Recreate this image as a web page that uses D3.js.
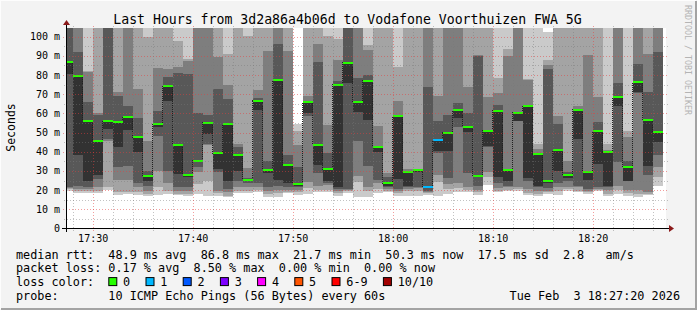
<!DOCTYPE html>
<html>
<head>
<meta charset="utf-8">
<script src="https://cdn.jsdelivr.net/npm/d3@7"></script>
<style>
  body { margin: 0; background: #f3f3f3; }
  text { font-family: "DejaVu Sans Mono", monospace; }
</style>
</head>
<body>
<div id="chart"></div>
<script>
// Graph data
var title = "Last Hours from 3d2a86a4b06d to Vodafone Voorthuizen FWA 5G";
var startTime = new Date(2026, 1, 3, 17, 27, 20),
    endTime = new Date(2026, 1, 3, 18, 27, 20),
    firstStep = new Date(2026, 1, 3, 17, 27, 0);

// median rtt per 1-minute step (ms)
var medians = [86.8, 79.7, 56.2, 45.7, 56.2, 55.7, 57.9, 47.5, 27.5, 54.4,
               74.4, 43.7, 28.0, 35.3, 55.1, 39.1, 54.4, 38.4, 25.4, 66.6,
               30.6, 77.4, 33.2, 23.1, 65.7, 43.7, 31.0, 75.0, 86.3, 66.1,
               77.0, 42.6, 23.5, 58.4, 29.7, 30.4, 21.7, 46.3, 49.9, 61.7,
               53.0, 27.5, 51.0, 61.4, 30.6, 60.3, 63.8, 38.8, 24.9, 40.9,
               28.0, 61.9, 29.7, 50.6, 39.7, 68.3, 32.2, 76.2, 56.7, 50.3];

// lost pings per step
var lossCount = [0,0,0,0,0,0,0,0,0,0, 0,0,0,0,0,0,0,0,0,0,
                 0,0,0,0,0,0,0,0,0,0, 0,0,0,0,0,0,1,1,0,0,
                 0,0,0,0,0,0,0,0,0,0, 0,0,0,0,0,0,0,0,0,0];

// sorted ping rtts per step (ms), 10 pings each; 115 = off the top of the graph
var pings = [
  [19.8, 20.5, 21.0, 21.7, 80.5, 86.8, 115, 115, 115, 115],
  [18.3, 19.3, 20.5, 22.3, 38.4, 79.7, 91.8, 115, 115, 115],
  [18.3, 19.7, 20.5, 21.7, 24.9, 56.2, 65.7, 81.4, 81.9, 115],
  [18.3, 19.7, 21.4, 25.7, 28.0, 45.7, 59.3, 60.0, 115, 115],
  [20.0, 21.4, 45.7, 46.6, 51.8, 56.2, 115, 115, 115, 115],
  [17.6, 18.8, 25.2, 31.8, 42.6, 55.7, 68.9, 71.0, 115, 115],
  [17.9, 18.8, 25.2, 32.7, 51.3, 57.9, 64.0, 115, 115, 115],
  [17.6, 18.8, 21.4, 23.5, 40.0, 47.5, 57.6, 72.7, 115, 115],
  [17.0, 17.9, 19.7, 21.9, 24.5, 27.5, 30.1, 45.7, 99.7, 115],
  [17.6, 21.4, 30.1, 48.3, 53.0, 54.4, 61.0, 83.7, 115, 115],
  [17.9, 19.7, 23.5, 30.1, 66.6, 74.4, 79.1, 83.0, 115, 115],
  [17.6, 17.9, 19.7, 21.4, 28.3, 43.7, 80.9, 84.0, 97.9, 115],
  [17.0, 17.9, 19.7, 21.4, 26.6, 28.0, 80.5, 87.1, 88.3, 115],
  [17.9, 23.1, 29.2, 32.2, 34.4, 35.3, 60.0, 115, 115, 115],
  [17.0, 24.9, 43.7, 44.0, 49.2, 55.1, 59.3, 115, 115, 115],
  [17.0, 18.3, 19.8, 29.2, 31.0, 39.1, 72.7, 89.2, 115, 115],
  [16.2, 17.0, 18.8, 20.5, 24.9, 54.4, 67.5, 75.0, 91.0, 115],
  [18.3, 19.7, 21.4, 24.5, 30.1, 38.4, 42.3, 44.0, 115, 115],
  [18.3, 19.7, 21.7, 23.5, 24.5, 25.4, 26.3, 31.5, 100.5, 115],
  [18.8, 20.0, 21.7, 23.5, 61.7, 66.6, 68.0, 72.2, 115, 115],
  [16.5, 17.9, 19.7, 21.4, 28.9, 30.6, 35.3, 92.3, 115, 115],
  [16.5, 18.3, 20.2, 21.9, 25.2, 77.4, 96.2, 115, 115, 115],
  [18.3, 18.8, 20.0, 21.7, 23.5, 33.2, 38.4, 92.3, 115, 115],
  [17.6, 18.8, 20.0, 21.4, 22.3, 23.1, 31.8, 43.7, 51.0, 54.4],
  [17.9, 21.0, 24.0, 58.8, 60.0, 65.7, 66.3, 69.2, 115, 115],
  [18.8, 20.2, 22.3, 28.7, 33.2, 43.7, 86.6, 96.2, 115, 115],
  [18.8, 20.0, 22.8, 23.5, 24.5, 31.0, 39.3, 54.1, 100.5, 115],
  [17.0, 18.3, 19.7, 20.5, 21.4, 75.0, 77.0, 87.8, 98.8, 115],
  [18.6, 19.3, 20.0, 20.5, 75.7, 86.3, 115, 115, 115, 115],
  [16.5, 24.0, 27.5, 45.7, 60.5, 66.1, 78.4, 115, 115, 115],
  [16.2, 19.7, 21.4, 32.7, 56.5, 77.0, 80.2, 93.0, 95.8, 115],
  [18.3, 20.5, 23.5, 25.2, 39.7, 42.6, 43.1, 53.6, 115, 115],
  [19.1, 19.7, 20.5, 21.4, 22.3, 23.5, 27.0, 28.7, 115, 115],
  [17.0, 18.3, 19.7, 20.5, 25.7, 58.4, 58.8, 66.3, 84.0, 115],
  [17.0, 19.7, 20.5, 21.4, 22.3, 29.7, 30.1, 31.0, 115, 115],
  [17.0, 19.7, 21.0, 21.7, 29.2, 30.4, 30.8, 31.1, 115, 115],
  [17.6, 18.3, 19.1, 19.7, 21.0, 21.7, 73.9, 115, 115, 115],
  [17.0, 24.0, 28.0, 39.1, 40.5, 46.3, 56.2, 69.2, 115, 115],
  [17.9, 20.5, 23.1, 26.3, 40.5, 49.9, 59.3, 115, 115, 115],
  [18.8, 21.0, 23.5, 52.7, 57.6, 61.7, 65.2, 115, 115, 115],
  [19.1, 20.0, 21.7, 28.7, 50.1, 53.0, 60.0, 73.9, 115, 115],
  [17.6, 18.8, 20.0, 22.3, 27.0, 27.5, 90.1, 90.6, 115, 115],
  [22.8, 26.6, 29.2, 42.6, 43.1, 51.0, 51.3, 68.7, 115, 115],
  [18.8, 19.7, 21.0, 23.5, 26.6, 61.4, 64.5, 70.4, 78.4, 115],
  [19.3, 20.2, 21.4, 22.3, 24.5, 30.6, 31.0, 90.1, 93.6, 115],
  [19.7, 20.5, 21.4, 55.8, 56.2, 60.3, 60.5, 115, 115, 115],
  [17.6, 18.3, 20.5, 24.9, 26.3, 63.8, 64.0, 77.4, 77.9, 115],
  [17.0, 17.9, 19.7, 21.4, 22.3, 38.8, 39.1, 41.4, 44.3, 115],
  [17.9, 18.8, 19.7, 21.0, 23.5, 24.9, 83.1, 85.4, 87.8, 102.5],
  [17.6, 19.7, 21.4, 23.5, 30.1, 40.9, 54.4, 58.8, 115, 115],
  [19.7, 20.5, 21.4, 24.5, 26.3, 28.0, 29.2, 35.0, 115, 115],
  [18.8, 19.7, 21.4, 22.3, 46.6, 61.9, 62.3, 64.0, 115, 115],
  [17.9, 18.8, 19.7, 20.5, 25.2, 29.7, 30.1, 90.6, 115, 115],
  [19.7, 20.0, 20.5, 21.4, 33.6, 50.6, 55.3, 68.7, 115, 115],
  [17.0, 17.9, 20.0, 21.4, 22.3, 39.7, 40.2, 40.9, 44.3, 115],
  [17.9, 20.2, 22.3, 34.4, 64.0, 68.3, 75.7, 115, 115, 115],
  [17.0, 18.3, 20.2, 24.5, 24.9, 32.2, 35.3, 47.8, 50.6, 115],
  [16.2, 17.9, 20.0, 70.6, 71.0, 76.2, 85.7, 115, 115, 115],
  [17.6, 17.9, 18.8, 28.0, 32.7, 56.7, 71.0, 91.0, 115, 115],
  [22.3, 26.6, 31.8, 38.4, 44.9, 50.6, 91.8, 115, 115, 115]
];

var yTicks = [0, 10, 20, 30, 40, 50, 60, 70, 80, 90, 100];
var lossLegend = [["0", "#26ff00"], ["1", "#00b8ff"], ["2", "#0059ff"], ["3", "#7e00ff"],
                  ["4", "#ff00ff"], ["5", "#ff5500"], ["6-9", "#ff0000"], ["10/10", "#a10000"]];
var smokeGreys = ["#cacaca", "#a4a4a4", "#7e7e7e", "#585858", "#323232"];

var statLines = [
  "median rtt:  48.9 ms avg  86.8 ms max  21.7 ms min  50.3 ms now  17.5 ms sd  2.8   am/s",
  "packet loss: 0.17 % avg  8.50 % max  0.00 % min  0.00 % now",
  "loss color:",
  "probe:       10 ICMP Echo Pings (56 Bytes) every 60s"
];
var dateText = "Tue Feb  3 18:27:20 2026";

// Layout
var W = 697, H = 310;
var plot = {left: 66, right: 666, top: 28, bottom: 228.5};

var svg = d3.select("#chart").append("svg")
    .attr("width", W)
    .attr("height", H)
    .style("display", "block");

// background + 3d frame
svg.append("rect").attr("width", W).attr("height", H).attr("fill", "#f3f3f3");
svg.append("path").attr("d", "M0,309 L0,0 L696,0").attr("fill", "none")
    .attr("stroke", "#fdfdfd").attr("stroke-width", 2);
svg.append("path").attr("d", "M1,309 L696,309 L696,1").attr("fill", "none")
    .attr("stroke", "#a3a3a3").attr("stroke-width", 2);

var x = d3.scaleTime().domain([startTime, endTime]).range([plot.left, plot.right]);
var y = d3.scaleLinear().domain([0, 104.5]).range([plot.bottom, plot.top]);

svg.append("defs").append("clipPath").attr("id", "clip")
  .append("rect")
    .attr("x", plot.left).attr("y", plot.top)
    .attr("width", plot.right - plot.left).attr("height", plot.bottom - plot.top);

svg.append("rect")
    .attr("x", plot.left).attr("y", plot.top)
    .attr("width", plot.right - plot.left).attr("height", plot.bottom - plot.top)
    .attr("fill", "#fff");

// one record per step
var steps = pings.map(function(p, i) {
  var t0 = d3.timeMinute.offset(firstStep, i),
      t1 = d3.timeMinute.offset(firstStep, i + 1);
  return {x0: Math.max(x(t0), plot.left), x1: Math.min(x(t1), plot.right),
          p: p, med: medians[i], loss: lossCount[i]};
});

var g = svg.append("g").attr("clip-path", "url(#clip)");

// smoke: nested bands ping k .. ping (n-1-k)
smokeGreys.forEach(function(col, k) {
  g.selectAll(null)
    .data(steps)
    .enter().append("rect")
      .attr("x", function(d) { return d.x0; })
      .attr("width", function(d) { return d.x1 - d.x0; })
      .attr("y", function(d) { return y(d.p[9 - k]); })
      .attr("height", function(d) { return y(d.p[k]) - y(d.p[9 - k]); })
      .attr("fill", col)
      .attr("shape-rendering", "crispEdges");
});

// median step line
var medPts = [];
steps.forEach(function(d) { medPts.push([d.x0, d.med], [d.x1, d.med]); });
g.append("path")
    .attr("d", d3.line().x(function(d) { return d[0]; }).y(function(d) { return y(d[1]); })(medPts))
    .attr("fill", "none")
    .attr("stroke", "#202020")
    .attr("stroke-width", 1)
    .attr("stroke-dasharray", "1,1")
    .attr("shape-rendering", "crispEdges");

// loss coloured median bars
function lossColor(n) {
  if (n >= 10) return lossLegend[7][1];
  if (n >= 6) return lossLegend[6][1];
  return lossLegend[n][1];
}
g.selectAll(null)
  .data(steps)
  .enter().append("rect")
    .attr("x", function(d) { return d.x0; })
    .attr("width", function(d) { return d.x1 - d.x0; })
    .attr("y", function(d) { return Math.round(y(d.med)) - 1; })
    .attr("height", 2)
    .attr("fill", function(d) { return lossColor(d.loss); })
    .attr("shape-rendering", "crispEdges");

// grid on top
var grid = svg.append("g").attr("shape-rendering", "crispEdges");
var minorY = d3.range(5, 105, 10);
grid.selectAll(null).data(minorY).enter().append("line")
    .attr("x1", plot.left - 2).attr("x2", plot.right + 2)
    .attr("y1", function(d) { return Math.round(y(d)) + 0.5; })
    .attr("y2", function(d) { return Math.round(y(d)) + 0.5; })
    .attr("stroke", "rgba(120,120,120,0.45)")
    .attr("stroke-dasharray", "1,2");
grid.selectAll(null).data(yTicks.slice(1)).enter().append("line")
    .attr("x1", plot.left - 3).attr("x2", plot.right + 2)
    .attr("y1", function(d) { return Math.round(y(d)) + 0.5; })
    .attr("y2", function(d) { return Math.round(y(d)) + 0.5; })
    .attr("stroke", "rgba(230,60,60,0.5)")
    .attr("stroke-dasharray", "1,2");

var minorX = x.ticks(d3.timeMinute.every(2)).filter(function(t) { return t.getMinutes() % 10 !== 0; });
var majorX = x.ticks(d3.timeMinute.every(10));
grid.selectAll(null).data(minorX).enter().append("line")
    .attr("x1", function(d) { return Math.round(x(d)) + 0.5; })
    .attr("x2", function(d) { return Math.round(x(d)) + 0.5; })
    .attr("y1", plot.top - 2).attr("y2", plot.bottom + 2)
    .attr("stroke", "rgba(120,120,120,0.45)")
    .attr("stroke-dasharray", "1,2");
grid.selectAll(null).data(majorX).enter().append("line")
    .attr("x1", function(d) { return Math.round(x(d)) + 0.5; })
    .attr("x2", function(d) { return Math.round(x(d)) + 0.5; })
    .attr("y1", plot.top - 2).attr("y2", plot.bottom + 3)
    .attr("stroke", "rgba(230,60,60,0.5)")
    .attr("stroke-dasharray", "1,2");

// axes
svg.append("line").attr("x1", plot.left - 4).attr("x2", plot.right + 4)
    .attr("y1", 228.5).attr("y2", 228.5).attr("stroke", "#000");
svg.append("line").attr("x1", plot.left + 0.5).attr("x2", plot.left + 0.5)
    .attr("y1", 24).attr("y2", 232).attr("stroke", "#000");
svg.append("path").attr("d", "M63,25 L66.5,20 L70,25 Z").attr("fill", "#8b1a1a");
svg.append("path").attr("d", "M669,225 L674,228.5 L669,232 Z").attr("fill", "#8b1a1a");

// y labels
svg.selectAll(null).data(yTicks).enter().append("text")
    .attr("x", 60)
    .attr("y", function(d) { return y(d) + 3.5; })
    .attr("text-anchor", "end")
    .style("font-size", "10px")
    .text(function(d) { return d === 0 ? "0" : d + " m"; });

// x labels
var fmt = d3.timeFormat("%H:%M");
svg.selectAll(null).data(majorX).enter().append("text")
    .attr("x", function(d) { return x(d) + 0.5; })
    .attr("y", 242)
    .attr("text-anchor", "middle")
    .style("font-size", "10px")
    .text(fmt);

// title and side labels
svg.append("text").attr("x", 347.5).attr("y", 24)
    .attr("text-anchor", "middle").style("font-size", "13.2px").text(title);
svg.append("text").attr("transform", "translate(15,127.5) rotate(-90)")
    .attr("text-anchor", "middle").style("font-size", "11.5px").text("Seconds");
svg.append("text").attr("transform", "translate(685,5) rotate(90)")
    .style("font-size", "8.3px").attr("fill", "#b4b4b4").text("RRDTOOL / TOBI OETIKER");

// legend
var cw = 7.1;
var legendY = [258.5, 272.3, 286.1, 299.9];
statLines.forEach(function(s, i) {
  svg.append("text").attr("x", 16).attr("y", legendY[i])
      .attr("xml:space", "preserve").style("white-space", "pre")
      .style("font-size", "11.8px").text(s);
});
svg.append("text").attr("x", 680).attr("y", legendY[3])
    .attr("text-anchor", "end").attr("xml:space", "preserve").style("white-space", "pre")
    .style("font-size", "11.8px").text(dateText);

var lx = 16 + 13 * cw;
lossLegend.forEach(function(d) {
  svg.append("rect").attr("x", lx + 0.5).attr("y", legendY[2] - 8.5)
      .attr("width", 8).attr("height", 8)
      .attr("fill", d[1]).attr("stroke", "#000").attr("stroke-width", 1);
  svg.append("text").attr("x", lx + 14.8).attr("y", legendY[2])
      .style("font-size", "11.8px").text(d[0]);
  lx = lx + 14.8 + d[0].length * cw + 15.3;
});
</script>
</body>
</html>
